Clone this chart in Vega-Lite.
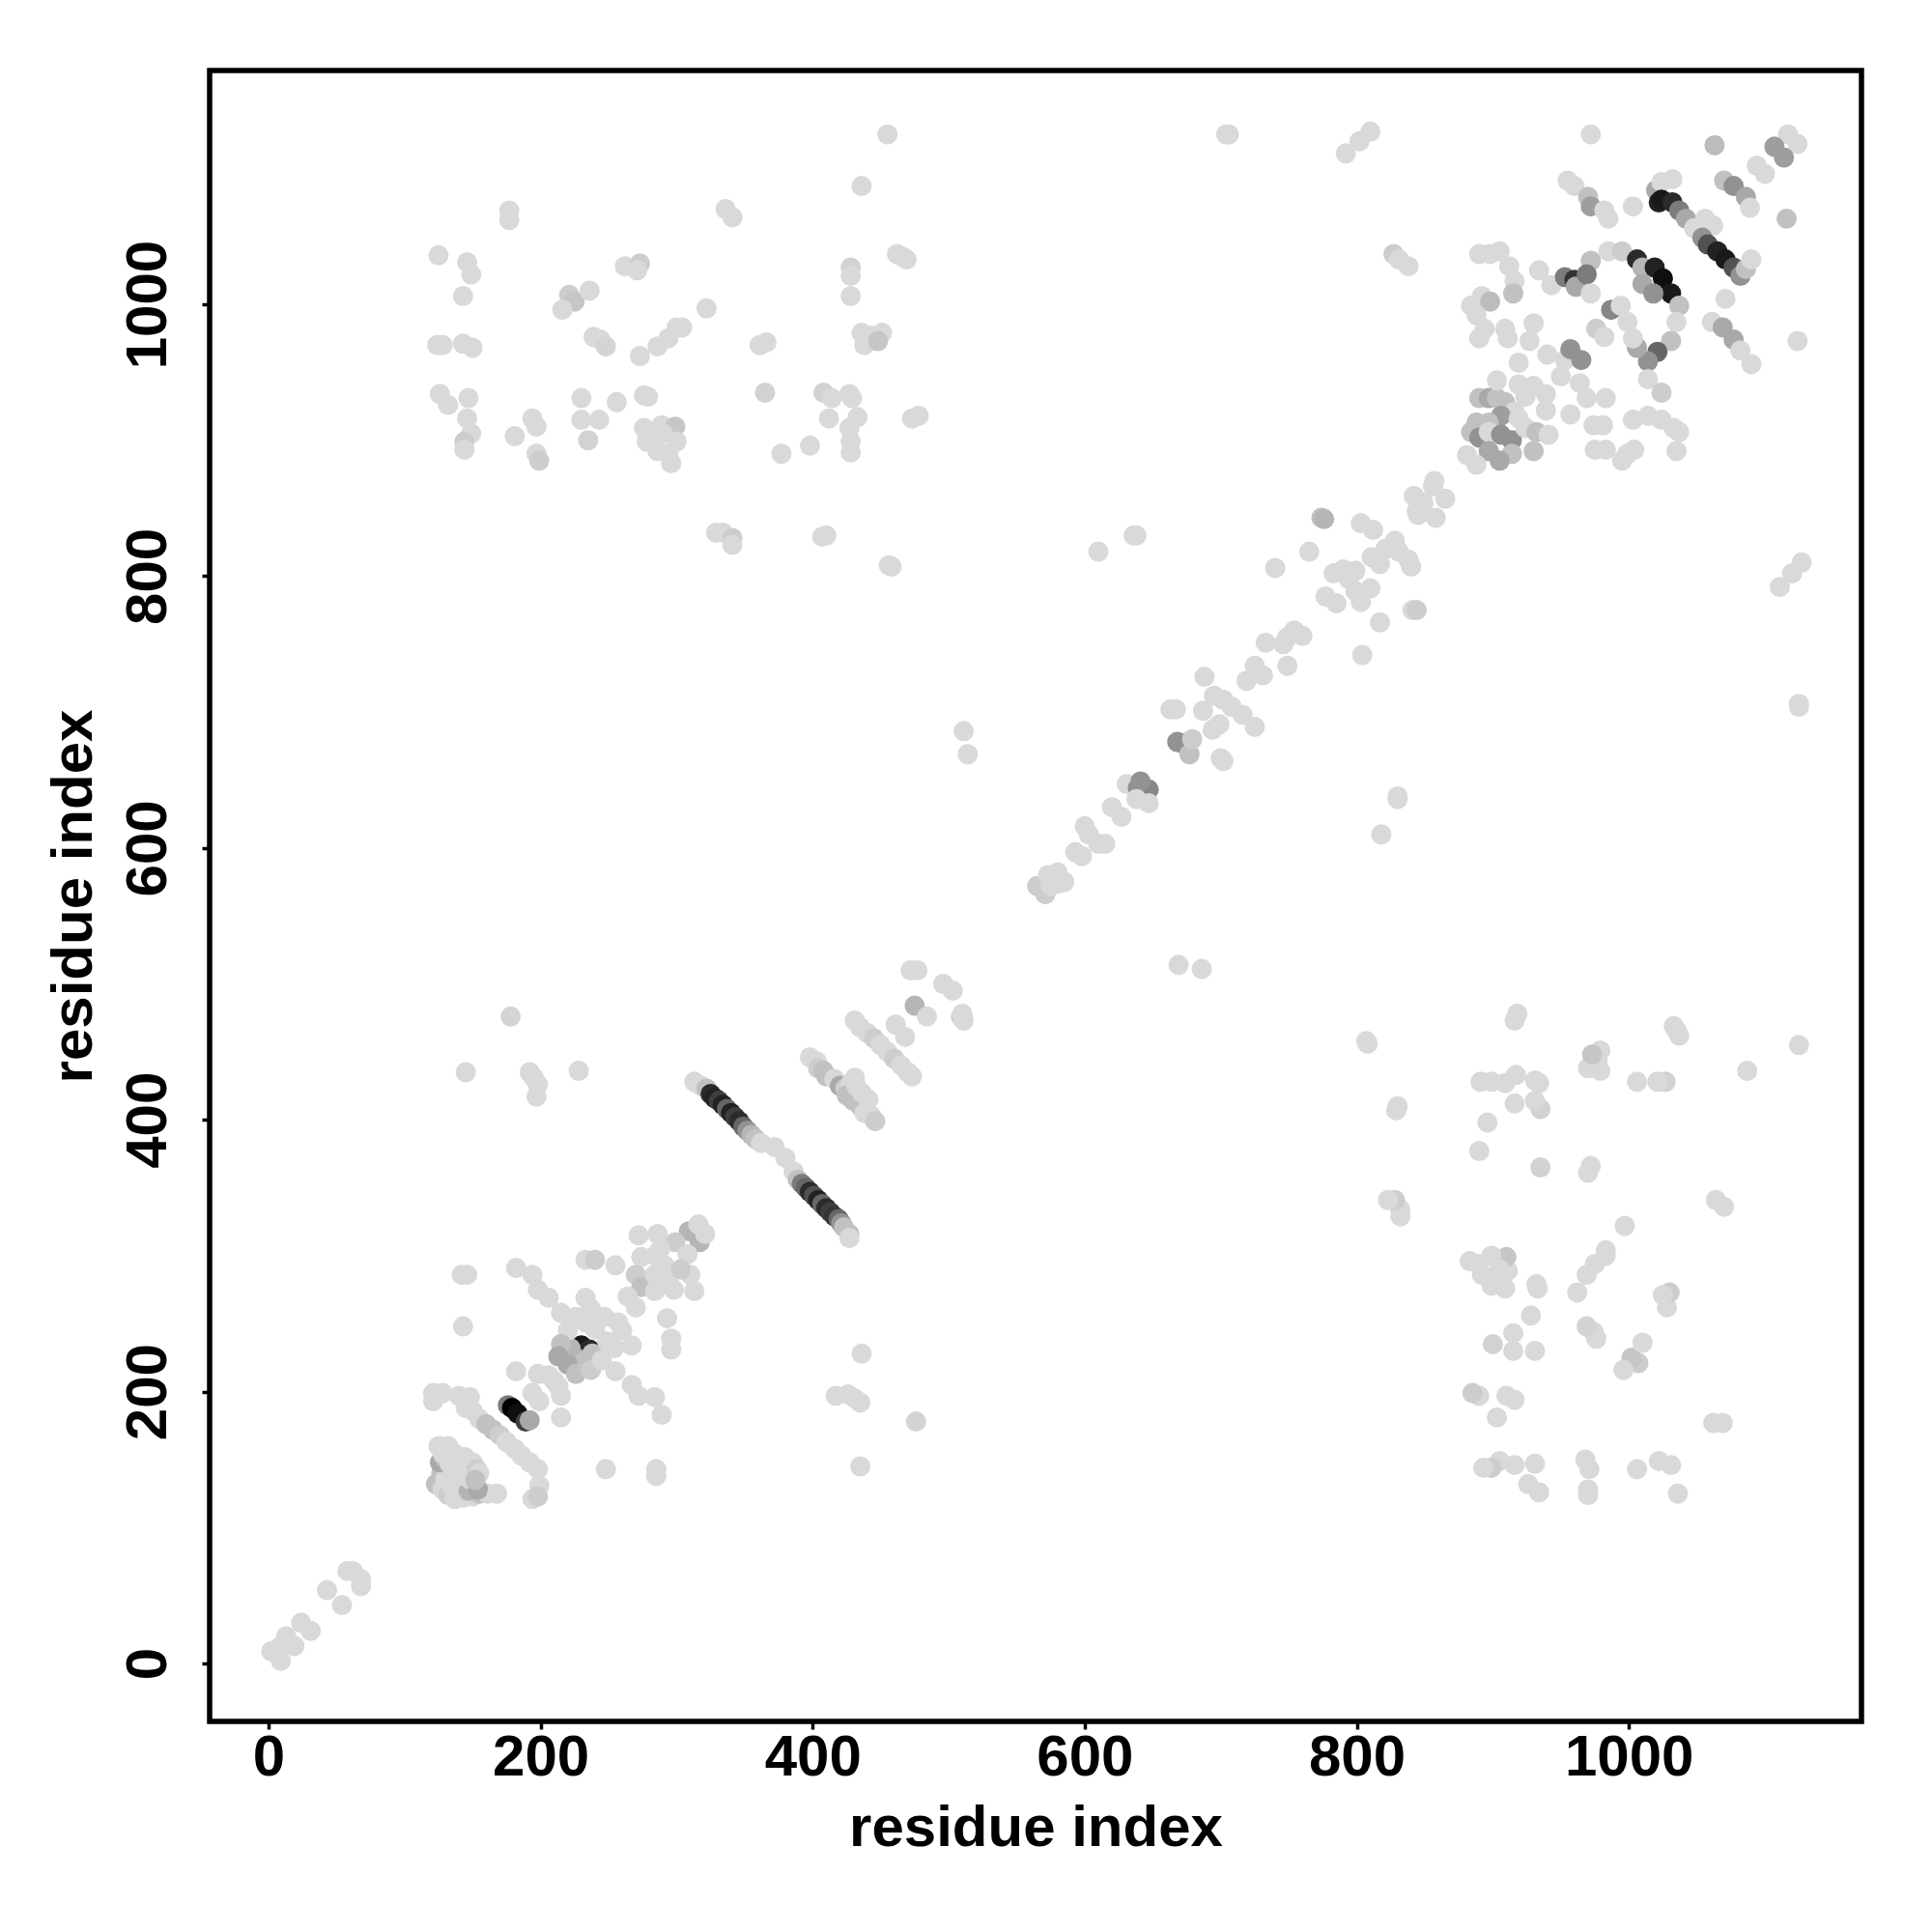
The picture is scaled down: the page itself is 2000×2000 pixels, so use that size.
{"$schema":"https://vega.github.io/schema/vega-lite/v6.json","width":1710,"height":1709,"autosize":{"type":"none"},"padding":{"left":217,"top":73,"right":73,"bottom":218},"background":"white","config":{"view":{"stroke":"#000000","strokeWidth":5.5},"axis":{"grid":false,"domain":false,"ticks":true,"tickColor":"#000","tickSize":8,"tickWidth":3.5,"labelColor":"#000","titleColor":"#000","labelFont":"Liberation Sans","titleFont":"Liberation Sans","labelFontWeight":"bold","titleFontWeight":"bold","labelFontSize":60,"titleFontSize":60}},"data":{"values":[
{"x":2,"y":9,"v":0},{"x":9,"y":2,"v":0},{"x":13,"y":20,"v":0},{"x":19,"y":13,"v":0},{"x":8,"y":12,"v":0},{"x":24,"y":30,"v":0},{"x":31,"y":24,"v":0},{"x":43,"y":54,"v":0},{"x":54,"y":43,"v":0},{"x":58,"y":68,"v":0},{"x":62,"y":68,"v":0},{"x":68,"y":57,"v":0},{"x":68,"y":62,"v":0},
{"x":123,"y":132,"v":0.1},{"x":128,"y":128,"v":0},{"x":132,"y":124,"v":0.05},{"x":137,"y":121,"v":0},{"x":143,"y":122,"v":0},{"x":150,"y":123,"v":0},{"x":155,"y":125,"v":0.1},{"x":161,"y":125,"v":0},{"x":127,"y":140,"v":0.1},{"x":130,"y":136,"v":0},{"x":135,"y":130,"v":0},{"x":141,"y":128,"v":0},{"x":147,"y":127,"v":0.15},{"x":126,"y":148,"v":0.2},{"x":129,"y":152,"v":0.1},{"x":133,"y":147,"v":0},{"x":138,"y":142,"v":0},{"x":143,"y":138,"v":0},{"x":149,"y":135,"v":0},{"x":154,"y":128,"v":0.2},{"x":125,"y":160,"v":0},{"x":128,"y":155,"v":0},{"x":132,"y":160,"v":0},{"x":144,"y":152,"v":0},{"x":150,"y":148,"v":0},{"x":153,"y":143,"v":0.05},{"x":155,"y":140,"v":0},{"x":152,"y":135,"v":0.1},{"x":140,"y":150,"v":0},{"x":136,"y":155,"v":0},{"x":168,"y":125,"v":0},
{"x":121,"y":199,"v":0},{"x":121,"y":193,"v":0},{"x":128,"y":199,"v":0},{"x":140,"y":197,"v":0},{"x":148,"y":196,"v":0},{"x":145,"y":188,"v":0},{"x":150,"y":186,"v":0},{"x":155,"y":180,"v":0},{"x":160,"y":176,"v":0.1},{"x":165,"y":172,"v":0.1},{"x":170,"y":168,"v":0.05},{"x":175,"y":163,"v":0},{"x":181,"y":158,"v":0},{"x":186,"y":153,"v":0},{"x":192,"y":148,"v":0},{"x":198,"y":143,"v":0},{"x":199,"y":131,"v":0},{"x":194,"y":121,"v":0},{"x":198,"y":123,"v":0.05},
{"x":176,"y":190,"v":0.4},{"x":179,"y":188,"v":1},{"x":183,"y":184,"v":0.95},{"x":189,"y":178,"v":0.7},{"x":192,"y":179,"v":0.2},{"x":215,"y":181,"v":0},{"x":182,"y":215,"v":0},{"x":198,"y":213,"v":0},{"x":206,"y":212,"v":0},{"x":210,"y":208,"v":0},{"x":213,"y":204,"v":0},{"x":194,"y":199,"v":0},{"x":199,"y":193,"v":0},{"x":215,"y":197,"v":0},
{"x":230,"y":234,"v":0.9},{"x":236,"y":231,"v":0.8},{"x":222,"y":232,"v":0.15},{"x":226,"y":225,"v":0.15},{"x":238,"y":228,"v":0.1},{"x":232,"y":222,"v":0.1},{"x":233,"y":269,"v":0},{"x":226,"y":255,"v":0},{"x":220,"y":245,"v":0},{"x":215,"y":235,"v":0.1},{"x":213,"y":226,"v":0.2},{"x":220,"y":220,"v":0.2},{"x":226,"y":213,"v":0.1},{"x":237,"y":216,"v":0.05},{"x":245,"y":223,"v":0},{"x":254,"y":232,"v":0},{"x":260,"y":245,"v":0},{"x":257,"y":251,"v":0},{"x":247,"y":255,"v":0},{"x":237,"y":261,"v":0},{"x":233,"y":251,"v":0},{"x":240,"y":246,"v":0},{"x":249,"y":237,"v":0},{"x":267,"y":234,"v":0},
{"x":182,"y":291,"v":0},{"x":194,"y":286,"v":0},{"x":198,"y":275,"v":0},{"x":206,"y":269,"v":0},{"x":215,"y":258,"v":0},{"x":255,"y":215,"v":0},{"x":267,"y":205,"v":0},{"x":272,"y":197,"v":0},{"x":284,"y":196,"v":0},{"x":289,"y":183,"v":0},{"x":142,"y":286,"v":0},{"x":146,"y":286,"v":0},{"x":143,"y":248,"v":0},{"x":248,"y":143,"v":0},{"x":285,"y":143,"v":0},{"x":285,"y":138,"v":0},{"x":293,"y":254,"v":0},{"x":296,"y":239,"v":0},{"x":296,"y":231,"v":0},{"x":233,"y":297,"v":0},{"x":240,"y":297,"v":0.05},{"x":255,"y":293,"v":0},
{"x":272,"y":315,"v":0},{"x":286,"y":316,"v":0},{"x":309,"y":318,"v":0.15},{"x":316,"y":323,"v":0},{"x":317,"y":310,"v":0.15},{"x":321,"y":316,"v":0},{"x":299,"y":310,"v":0.05},{"x":288,"y":305,"v":0},{"x":274,"y":299,"v":0},{"x":270,"y":286,"v":0.05},{"x":274,"y":277,"v":0.1},{"x":284,"y":274,"v":0},{"x":298,"y":275,"v":0},{"x":313,"y":274,"v":0},{"x":310,"y":286,"v":0},{"x":308,"y":301,"v":0},{"x":291,"y":293,"v":0},{"x":284,"y":286,"v":0},{"x":294,"y":282,"v":0},{"x":264,"y":270,"v":0},{"x":270,"y":262,"v":0},{"x":303,"y":290,"v":0.05},{"x":284,"y":300,"v":0},
{"x":313,"y":428,"v":0},{"x":318,"y":425,"v":0},{"x":322,"y":423,"v":0.1},{"x":325,"y":419,"v":0.8},{"x":328,"y":416,"v":0.85},{"x":331,"y":414,"v":0.7},{"x":334,"y":411,"v":0.85},{"x":337,"y":408,"v":0.5},{"x":340,"y":405,"v":0.85},{"x":343,"y":402,"v":0.7},{"x":346,"y":399,"v":0.8},{"x":349,"y":395,"v":0.5},{"x":352,"y":392,"v":0.3},{"x":355,"y":389,"v":0.15},{"x":358,"y":386,"v":0.1},{"x":362,"y":383,"v":0},{"x":372,"y":380,"v":0},{"x":380,"y":372,"v":0},{"x":386,"y":362,"v":0},{"x":389,"y":356,"v":0.1},{"x":392,"y":353,"v":0.4},{"x":395,"y":350,"v":0.5},{"x":398,"y":347,"v":0.8},{"x":401,"y":344,"v":0.6},{"x":404,"y":341,"v":0.85},{"x":407,"y":338,"v":0.5},{"x":410,"y":335,"v":0.8},{"x":413,"y":332,"v":0.7},{"x":416,"y":329,"v":0.75},{"x":419,"y":327,"v":0.5},{"x":421,"y":324,"v":0.3},{"x":423,"y":321,"v":0.1},{"x":427,"y":316,"v":0.1},{"x":427,"y":313,"v":0},
{"x":398,"y":446,"v":0},{"x":403,"y":443,"v":0},{"x":404,"y":438,"v":0.05},{"x":408,"y":436,"v":0.1},{"x":410,"y":432,"v":0.1},{"x":416,"y":430,"v":0},{"x":420,"y":425,"v":0.2},{"x":424,"y":423,"v":0.05},{"x":428,"y":427,"v":0},{"x":431,"y":431,"v":0},{"x":425,"y":418,"v":0.1},{"x":430,"y":414,"v":0.1},{"x":435,"y":410,"v":0.1},{"x":438,"y":405,"v":0},{"x":443,"y":403,"v":0},{"x":446,"y":399,"v":0.05},{"x":432,"y":425,"v":0},{"x":436,"y":420,"v":0},{"x":441,"y":415,"v":0},
{"x":431,"y":473,"v":0},{"x":435,"y":468,"v":0},{"x":440,"y":464,"v":0},{"x":445,"y":460,"v":0.05},{"x":450,"y":455,"v":0},{"x":455,"y":450,"v":0},{"x":460,"y":445,"v":0.05},{"x":465,"y":440,"v":0},{"x":470,"y":435,"v":0},{"x":473,"y":432,"v":0},{"x":461,"y":470,"v":0},{"x":468,"y":461,"v":0},{"x":472,"y":510,"v":0},{"x":477,"y":510,"v":0},{"x":475,"y":484,"v":0.15},{"x":484,"y":476,"v":0},{"x":496,"y":500,"v":0},{"x":503,"y":495,"v":0},{"x":509,"y":476,"v":0.05},{"x":511,"y":473,"v":0},{"x":510,"y":478,"v":0},
{"x":565,"y":572,"v":0.05},{"x":571,"y":566,"v":0.05},{"x":573,"y":580,"v":0},{"x":580,"y":582,"v":0},{"x":575,"y":572,"v":0},{"x":581,"y":574,"v":0},{"x":585,"y":575,"v":0},{"x":593,"y":597,"v":0},{"x":598,"y":594,"v":0},{"x":600,"y":616,"v":0},{"x":603,"y":610,"v":0},{"x":610,"y":603,"v":0},{"x":615,"y":603,"v":0},{"x":620,"y":630,"v":0},{"x":627,"y":623,"v":0},{"x":631,"y":647,"v":0},{"x":639,"y":644,"v":0.3},{"x":647,"y":643,"v":0.35},{"x":641,"y":649,"v":0.3},{"x":647,"y":633,"v":0},{"x":638,"y":636,"v":0},
{"x":663,"y":702,"v":0},{"x":667,"y":702,"v":0},{"x":668,"y":678,"v":0.3},{"x":672,"y":677,"v":0.3},{"x":677,"y":669,"v":0.1},{"x":679,"y":680,"v":0.05},{"x":687,"y":701,"v":0},{"x":688,"y":726,"v":0},{"x":694,"y":687,"v":0},{"x":699,"y":691,"v":0},{"x":700,"y":666,"v":0},{"x":702,"y":664,"v":0},{"x":695,"y":712,"v":0},{"x":702,"y":709,"v":0},{"x":708,"y":704,"v":0},{"x":716,"y":698,"v":0},{"x":719,"y":723,"v":0},{"x":725,"y":689,"v":0},{"x":725,"y":734,"v":0},{"x":733,"y":751,"v":0},{"x":731,"y":727,"v":0},{"x":749,"y":734,"v":0},{"x":749,"y":755,"v":0},{"x":754,"y":760,"v":0},{"x":760,"y":756,"v":0},{"x":746,"y":750,"v":0},{"x":740,"y":806,"v":0},{"x":765,"y":818,"v":0},{"x":774,"y":843,"v":0.1},{"x":776,"y":842,"v":0.15},
{"x":777,"y":785,"v":0},{"x":783,"y":802,"v":0},{"x":785,"y":780,"v":0},{"x":790,"y":805,"v":0},{"x":794,"y":798,"v":0},{"x":799,"y":789,"v":0},{"x":803,"y":781,"v":0},{"x":799,"y":804,"v":0},{"x":810,"y":791,"v":0},{"x":811,"y":814,"v":0},{"x":817,"y":809,"v":0},{"x":803,"y":839,"v":0},{"x":812,"y":834,"v":0},{"x":821,"y":820,"v":0},{"x":831,"y":818,"v":0},{"x":840,"y":807,"v":0},{"x":841,"y":775,"v":0},{"x":844,"y":775,"v":0.05},{"x":817,"y":766,"v":0},{"x":804,"y":742,"v":0},{"x":842,"y":859,"v":0},{"x":844,"y":848,"v":0},{"x":858,"y":843,"v":0},{"x":849,"y":854,"v":0},{"x":856,"y":866,"v":0},{"x":865,"y":857,"v":0},{"x":845,"y":845,"v":0},{"x":857,"y":870,"v":0},{"x":838,"y":812,"v":0},{"x":828,"y":826,"v":0},
{"x":972,"y":1125,"v":0},{"x":1063,"y":1117,"v":0.12},{"x":1117,"y":1125,"v":0},{"x":1124,"y":1118,"v":0},{"x":1107,"y":1116,"v":0.25},{"x":1114,"y":1108,"v":0.25},{"x":1094,"y":1102,"v":0},{"x":1100,"y":1096,"v":0},{"x":1070,"y":1091,"v":0.1},{"x":1077,"y":1087,"v":0.3},{"x":1086,"y":1079,"v":0.2},{"x":1089,"y":1071,"v":0},{"x":1116,"y":1063,"v":0.1},
{"x":955,"y":1091,"v":0},{"x":960,"y":1087,"v":0},{"x":970,"y":1079,"v":0.1},{"x":972,"y":1072,"v":0.25},{"x":982,"y":1069,"v":0},{"x":985,"y":1063,"v":0},{"x":1003,"y":1072,"v":0},{"x":1020,"y":1084,"v":0.2},{"x":1022,"y":1075,"v":0.85},{"x":1024,"y":1090,"v":0},{"x":1024,"y":1077,"v":0.9},{"x":1032,"y":1075,"v":0.8},{"x":1032,"y":1092,"v":0},{"x":1037,"y":1069,"v":0.4},{"x":1042,"y":1063,"v":0.2},{"x":1048,"y":1056,"v":0},{"x":1056,"y":1063,"v":0},{"x":1062,"y":1058,"v":0},{"x":1054,"y":1049,"v":0.3},{"x":1058,"y":1044,"v":0.6},{"x":1065,"y":1039,"v":0.85},{"x":1071,"y":1033,"v":0.9},{"x":1077,"y":1027,"v":0.6},{"x":1082,"y":1021,"v":0.3},{"x":1086,"y":1026,"v":0.1},{"x":1090,"y":1033,"v":0},{"x":1071,"y":1004,"v":0},{"x":1061,"y":987,"v":0},{"x":1069,"y":983,"v":0.2},{"x":1077,"y":974,"v":0.2},{"x":1082,"y":966,"v":0},{"x":1090,"y":956,"v":0},{"x":1124,"y":973,"v":0},
{"x":827,"y":1037,"v":0.05},{"x":831,"y":1033,"v":0},{"x":838,"y":1028,"v":0},{"x":890,"y":1037,"v":0},{"x":898,"y":1037,"v":0},{"x":905,"y":1039,"v":0},{"x":912,"y":1028,"v":0},{"x":916,"y":1017,"v":0},{"x":915,"y":1008,"v":0.1},{"x":934,"y":1025,"v":0},{"x":943,"y":1014,"v":0},{"x":884,"y":999,"v":0},{"x":892,"y":1006,"v":0},{"x":898,"y":1002,"v":0.12},{"x":888,"y":992,"v":0},{"x":894,"y":982,"v":0},{"x":890,"y":975,"v":0},{"x":909,"y":982,"v":0},{"x":911,"y":975,"v":0},{"x":930,"y":986,"v":0},{"x":927,"y":973,"v":0},{"x":940,"y":963,"v":0},{"x":919,"y":957,"v":0},{"x":953,"y":959,"v":0},{"x":957,"y":967,"v":0.3},{"x":965,"y":959,"v":0.3},{"x":950,"y":947,"v":0},{"x":964,"y":942,"v":0},{"x":969,"y":931,"v":0},{"x":983,"y":931,"v":0},{"x":957,"y":919,"v":0},
{"x":953,"y":1020,"v":0.4},{"x":960,"y":1018,"v":0.75},{"x":961,"y":1013,"v":0.2},{"x":972,"y":1032,"v":0.1},{"x":969,"y":1022,"v":0.4},{"x":985,"y":1039,"v":0},{"x":995,"y":1039,"v":0.05},{"x":1006,"y":1033,"v":0.8},{"x":1010,"y":1027,"v":0.15},{"x":1019,"y":1027,"v":0.85},{"x":1010,"y":1015,"v":0.2},{"x":1025,"y":1019,"v":0.95},{"x":1031,"y":1008,"v":0.9},{"x":1018,"y":1008,"v":0.3},{"x":1037,"y":999,"v":0.1},{"x":1035,"y":987,"v":0},{"x":1031,"y":973,"v":0.1},{"x":1021,"y":965,"v":0.5},{"x":1014,"y":958,"v":0.3},{"x":1006,"y":968,"v":0.2},{"x":1003,"y":975,"v":0},{"x":972,"y":1008,"v":0},{"x":987,"y":996,"v":0.35},{"x":994,"y":999,"v":0},{"x":999,"y":987,"v":0},{"x":976,"y":982,"v":0.05},{"x":982,"y":976,"v":0},{"x":1014,"y":945,"v":0},{"x":1024,"y":935,"v":0.05},
{"x":890,"y":931,"v":0.1},{"x":897,"y":931,"v":0.2},{"x":903,"y":931,"v":0.1},{"x":909,"y":928,"v":0.1},{"x":903,"y":944,"v":0},{"x":919,"y":941,"v":0},{"x":930,"y":940,"v":0},{"x":939,"y":934,"v":0},{"x":924,"y":932,"v":0},{"x":939,"y":922,"v":0},{"x":916,"y":921,"v":0},{"x":906,"y":918,"v":0.25},{"x":897,"y":913,"v":0.1},{"x":888,"y":913,"v":0.1},{"x":884,"y":906,"v":0.1},{"x":890,"y":902,"v":0.3},{"x":897,"y":906,"v":0},{"x":906,"y":904,"v":0.3},{"x":914,"y":900,"v":0.3},{"x":924,"y":909,"v":0},{"x":932,"y":906,"v":0.1},{"x":941,"y":904,"v":0},{"x":930,"y":892,"v":0.1},{"x":914,"y":890,"v":0.1},{"x":905,"y":885,"v":0.2},{"x":897,"y":892,"v":0.2},{"x":888,"y":882,"v":0},{"x":881,"y":889,"v":0},{"x":919,"y":916,"v":0},{"x":974,"y":911,"v":0},{"x":981,"y":911,"v":0},{"x":975,"y":893,"v":0},{"x":983,"y":893,"v":0},{"x":995,"y":885,"v":0},{"x":999,"y":890,"v":0},{"x":1004,"y":893,"v":0},{"x":1003,"y":915,"v":0},{"x":1014,"y":918,"v":0},{"x":1024,"y":915,"v":0},{"x":1033,"y":909,"v":0},{"x":1037,"y":906,"v":0},{"x":1035,"y":892,"v":0},
{"x":177,"y":1069,"v":0},{"x":177,"y":1062,"v":0},{"x":125,"y":1036,"v":0},{"x":146,"y":1031,"v":0},{"x":149,"y":1022,"v":0},{"x":143,"y":1006,"v":0},{"x":124,"y":970,"v":0},{"x":128,"y":970,"v":0},{"x":143,"y":971,"v":0},{"x":150,"y":968,"v":0},{"x":126,"y":934,"v":0},{"x":132,"y":926,"v":0},{"x":147,"y":931,"v":0},{"x":146,"y":916,"v":0},{"x":149,"y":905,"v":0},{"x":144,"y":899,"v":0.05},{"x":144,"y":893,"v":0},{"x":194,"y":916,"v":0},{"x":197,"y":910,"v":0},{"x":181,"y":903,"v":0},{"x":197,"y":890,"v":0},{"x":199,"y":885,"v":0.05},{"x":221,"y":1007,"v":0.05},{"x":225,"y":1002,"v":0.08},{"x":236,"y":1010,"v":0},{"x":216,"y":996,"v":0},{"x":262,"y":1028,"v":0},{"x":273,"y":1030,"v":0.05},{"x":271,"y":1025,"v":0},{"x":239,"y":976,"v":0},{"x":244,"y":974,"v":0},{"x":248,"y":969,"v":0.02},{"x":273,"y":962,"v":0},{"x":286,"y":969,"v":0},{"x":294,"y":975,"v":0},{"x":300,"y":983,"v":0},{"x":304,"y":983,"v":0},{"x":322,"y":997,"v":0},{"x":230,"y":931,"v":0},{"x":256,"y":928,"v":0},{"x":276,"y":933,"v":0},{"x":279,"y":932,"v":0},{"x":230,"y":915,"v":0},{"x":243,"y":915,"v":0},{"x":235,"y":900,"v":0.03},{"x":276,"y":909,"v":0},{"x":278,"y":899,"v":0},{"x":289,"y":911,"v":0},{"x":299,"y":910,"v":0.08},{"x":300,"y":899,"v":0},{"x":294,"y":890,"v":0},{"x":286,"y":892,"v":0},{"x":296,"y":883,"v":0},{"x":290,"y":905,"v":0},{"x":283,"y":902,"v":0},{"x":336,"y":1070,"v":0},{"x":341,"y":1064,"v":0},{"x":365,"y":935,"v":0.03},{"x":366,"y":972,"v":0},{"x":361,"y":970,"v":0},{"x":466,"y":1035,"v":0},{"x":462,"y":1037,"v":0},{"x":469,"y":1033,"v":0},{"x":428,"y":1027,"v":0.03},{"x":428,"y":1021,"v":0},{"x":428,"y":1006,"v":0},{"x":443,"y":977,"v":0},{"x":436,"y":979,"v":0},{"x":451,"y":979,"v":0},{"x":438,"y":970,"v":0},{"x":448,"y":973,"v":0.08},{"x":408,"y":935,"v":0.03},{"x":414,"y":931,"v":0},{"x":427,"y":934,"v":0},{"x":429,"y":931,"v":0},{"x":412,"y":916,"v":0},{"x":433,"y":917,"v":0},{"x":427,"y":909,"v":0},{"x":428,"y":899,"v":0},{"x":428,"y":891,"v":0},{"x":398,"y":896,"v":0},{"x":377,"y":890,"v":0},{"x":478,"y":918,"v":0},{"x":473,"y":916,"v":0},{"x":329,"y":832,"v":0},{"x":334,"y":832,"v":0},{"x":341,"y":828,"v":0.05},{"x":341,"y":823,"v":0},{"x":407,"y":829,"v":0},{"x":410,"y":830,"v":0},{"x":456,"y":808,"v":0},{"x":458,"y":807,"v":0},{"x":455,"y":1125,"v":0},{"x":436,"y":1087,"v":0},{"x":704,"y":1125,"v":0},{"x":706,"y":1125,"v":0},{"x":792,"y":1111,"v":0},{"x":802,"y":1120,"v":0},{"x":810,"y":1127,"v":0},{"x":511,"y":686,"v":0},{"x":514,"y":669,"v":0},{"x":610,"y":818,"v":0},{"x":636,"y":830,"v":0},{"x":638,"y":830,"v":0},{"x":178,"y":476,"v":0.02},{"x":145,"y":435,"v":0},{"x":192,"y":435,"v":0},{"x":195,"y":431,"v":0},{"x":198,"y":426,"v":0},{"x":197,"y":417,"v":0},{"x":228,"y":436,"v":0},
{"y":177,"x":1069,"v":0},{"y":177,"x":1062,"v":0},{"y":125,"x":1036,"v":0},{"y":146,"x":1031,"v":0},{"y":149,"x":1022,"v":0},{"y":143,"x":1006,"v":0},{"y":124,"x":970,"v":0},{"y":128,"x":970,"v":0},{"y":143,"x":971,"v":0},{"y":150,"x":968,"v":0},{"y":126,"x":934,"v":0},{"y":132,"x":926,"v":0},{"y":147,"x":931,"v":0},{"y":146,"x":916,"v":0},{"y":149,"x":905,"v":0},{"y":144,"x":899,"v":0.05},{"y":144,"x":893,"v":0},{"y":194,"x":916,"v":0},{"y":197,"x":910,"v":0},{"y":181,"x":903,"v":0},{"y":197,"x":890,"v":0},{"y":199,"x":885,"v":0.05},{"y":221,"x":1007,"v":0.05},{"y":225,"x":1002,"v":0.08},{"y":236,"x":1010,"v":0},{"y":216,"x":996,"v":0},{"y":262,"x":1028,"v":0},{"y":273,"x":1030,"v":0.05},{"y":271,"x":1025,"v":0},{"y":239,"x":976,"v":0},{"y":244,"x":974,"v":0},{"y":248,"x":969,"v":0.02},{"y":273,"x":962,"v":0},{"y":286,"x":969,"v":0},{"y":294,"x":975,"v":0},{"y":300,"x":983,"v":0},{"y":304,"x":983,"v":0},{"y":322,"x":997,"v":0},{"y":230,"x":931,"v":0},{"y":256,"x":928,"v":0},{"y":276,"x":933,"v":0},{"y":279,"x":932,"v":0},{"y":230,"x":915,"v":0},{"y":243,"x":915,"v":0},{"y":235,"x":900,"v":0.03},{"y":276,"x":909,"v":0},{"y":278,"x":899,"v":0},{"y":289,"x":911,"v":0},{"y":299,"x":910,"v":0.08},{"y":300,"x":899,"v":0},{"y":294,"x":890,"v":0},{"y":286,"x":892,"v":0},{"y":296,"x":883,"v":0},{"y":290,"x":905,"v":0},{"y":283,"x":902,"v":0},{"y":336,"x":1070,"v":0},{"y":341,"x":1064,"v":0},{"y":365,"x":935,"v":0.03},{"y":366,"x":972,"v":0},{"y":361,"x":970,"v":0},{"y":466,"x":1035,"v":0},{"y":462,"x":1037,"v":0},{"y":469,"x":1033,"v":0},{"y":428,"x":1027,"v":0.03},{"y":428,"x":1021,"v":0},{"y":428,"x":1006,"v":0},{"y":443,"x":977,"v":0},{"y":436,"x":979,"v":0},{"y":451,"x":979,"v":0},{"y":438,"x":970,"v":0},{"y":448,"x":973,"v":0.08},{"y":408,"x":935,"v":0.03},{"y":414,"x":931,"v":0},{"y":427,"x":934,"v":0},{"y":429,"x":931,"v":0},{"y":412,"x":916,"v":0},{"y":433,"x":917,"v":0},{"y":427,"x":909,"v":0},{"y":428,"x":899,"v":0},{"y":428,"x":891,"v":0},{"y":398,"x":896,"v":0},{"y":377,"x":890,"v":0},{"y":478,"x":918,"v":0},{"y":473,"x":916,"v":0},{"y":329,"x":832,"v":0},{"y":334,"x":832,"v":0},{"y":341,"x":828,"v":0.05},{"y":341,"x":823,"v":0},{"y":407,"x":829,"v":0},{"y":410,"x":830,"v":0},{"y":456,"x":808,"v":0},{"y":458,"x":807,"v":0},{"y":455,"x":1125,"v":0},{"y":436,"x":1087,"v":0},{"y":704,"x":1125,"v":0},{"y":706,"x":1125,"v":0},{"y":792,"x":1111,"v":0},{"y":802,"x":1120,"v":0},{"y":810,"x":1127,"v":0},{"y":511,"x":686,"v":0},{"y":514,"x":669,"v":0},{"y":610,"x":818,"v":0},{"y":636,"x":830,"v":0},{"y":638,"x":830,"v":0},{"y":178,"x":476,"v":0.02},{"y":145,"x":435,"v":0},{"y":192,"x":435,"v":0},{"y":195,"x":431,"v":0},{"y":198,"x":426,"v":0},{"y":197,"x":417,"v":0},{"y":228,"x":436,"v":0}
]},"mark":{"type":"point","shape":"circle","filled":true,"opacity":1,"size":440},"encoding":{"x":{"field":"x","type":"quantitative","scale":{"domain":[-43.3,1171],"nice":false,"zero":false},"axis":{"title":"residue index","values":[0,200,400,600,800,1000],"format":"d","labelAngle":0,"labelPadding":0,"titlePadding":14}},"y":{"field":"y","type":"quantitative","scale":{"domain":[-42.6,1172],"nice":false,"zero":false},"axis":{"title":"residue index","values":[0,200,400,600,800,1000],"format":"d","labelAngle":-90,"labelAlign":"center","labelBaseline":"bottom","labelPadding":25,"titlePadding":16}},"color":{"field":"v","type":"quantitative","legend":null,"scale":{"domain":[0,1],"range":["#d9d9d9","#000000"]}}}}
